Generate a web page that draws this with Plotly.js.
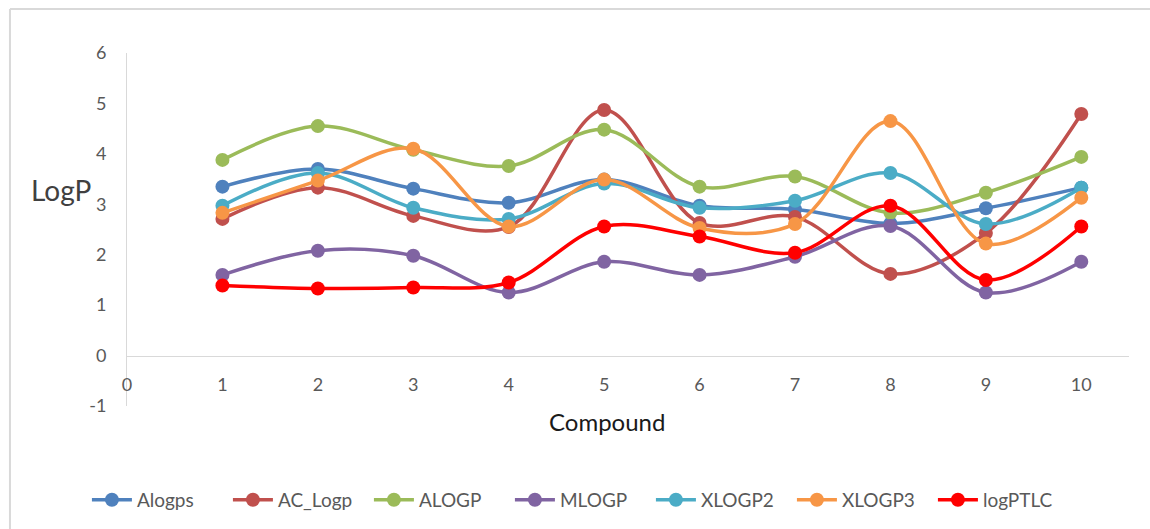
<!DOCTYPE html>
<html>
<head>
<meta charset="utf-8">
<script src="https://cdn.plot.ly/plotly-3.0.1.min.js"></script>
<style>html,body{margin:0;padding:0;background:#fff;}#chart{width:1150px;height:529px;}</style>
</head>
<body>
<div id="chart"></div>
<script>
const compounds = [1, 2, 3, 4, 5, 6, 7, 8, 9, 10];
const alogps  = [3.35, 3.70, 3.31, 3.03, 3.49, 2.97, 2.90, 2.62, 2.92, 3.33];
const acLogp  = [2.71, 3.33, 2.77, 2.55, 4.87, 2.63, 2.75, 1.62, 2.43, 4.79];
const alogp   = [3.88, 4.55, 4.08, 3.76, 4.48, 3.35, 3.55, 2.83, 3.23, 3.94];
const mlogp   = [1.60, 2.08, 1.98, 1.25, 1.86, 1.60, 1.96, 2.57, 1.25, 1.86];
const xlogp2  = [2.97, 3.62, 2.93, 2.71, 3.41, 2.93, 3.07, 3.62, 2.61, 3.33];
const xlogp3  = [2.83, 3.47, 4.10, 2.56, 3.49, 2.53, 2.61, 4.65, 2.22, 3.13];
const logPTLC = [1.39, 1.33, 1.35, 1.45, 2.56, 2.36, 2.04, 2.97, 1.50, 2.56];

const seriesNames = ['Alogps', 'AC_Logp', 'ALOGP', 'MLOGP', 'XLOGP2', 'XLOGP3', 'logPTLC'];
const seriesData = [alogps, acLogp, alogp, mlogp, xlogp2, xlogp3, logPTLC];
const colors = ['#4F81BD', '#C0504D', '#9BBB59', '#8064A2', '#4BACC6', '#F79646', '#FF0000'];

const xTickVals = [0, 1, 2, 3, 4, 5, 6, 7, 8, 9, 10];
const xTickText = ['0', '1', '2', '3', '4', '5', '6', '7', '8', '9', '10'];
const yTickVals = [-1, 0, 1, 2, 3, 4, 5, 6];
const yTickText = ['-1', '0', '1', '2', '3', '4', '5', '6'];

const traces = seriesNames.map((name, i) => ({
  type: 'scatter',
  mode: 'lines+markers',
  name: name,
  x: compounds,
  y: seriesData[i],
  line: {color: colors[i], width: 3.5, shape: 'spline', smoothing: 1},
  marker: {color: colors[i], size: 14}
}));

const font = "Lato, 'Open Sans', sans-serif";
const layout = {
  width: 1150, height: 529,
  margin: {l: 127, r: 21, t: 53, b: 123, autoexpand: false},
  paper_bgcolor: '#fff', plot_bgcolor: '#fff',
  showlegend: true,
  legend: {orientation: 'h', x: -0.04, xanchor: 'left', y: -0.266, yanchor: 'middle',
           font: {family: font, size: 19, color: '#595959'}, itemwidth: 40,
           entrywidth: 86, entrywidthmode: 'pixels'},
  xaxis: {range: [0, 10.5], tickmode: 'array', tickvals: xTickVals, ticktext: xTickText,
          anchor: 'free', position: 1/7, showline: true, linecolor: '#d9d9d9', linewidth: 1,
          showgrid: false, zeroline: false, ticks: '', ticklabelstandoff: 13,
          tickfont: {family: font, size: 18, color: '#595959'}},
  yaxis: {range: [-1, 6], tickmode: 'array', tickvals: yTickVals, ticktext: yTickText,
          showline: true, linecolor: '#d9d9d9', linewidth: 1, showgrid: false, zeroline: false,
          ticks: '', ticklabelstandoff: 16,
          tickfont: {family: font, size: 18, color: '#595959'}},
  annotations: [
    {text: 'LogP', xref: 'paper', yref: 'paper', x: -0.066, y: 0.612, showarrow: false,
     xanchor: 'center', yanchor: 'middle', font: {family: font, size: 28, color: '#404040'}},
    {text: 'Compound', xref: 'paper', yref: 'paper', x: 0.479, y: -0.045, showarrow: false,
     xanchor: 'center', yanchor: 'middle', font: {family: font, size: 24, color: '#1a1a1a'}}
  ],
  shapes: [
    {type: 'line', xref: 'paper', yref: 'paper', x0: -0.1168, x1: -0.1168, y0: 1.1246, y1: -0.36,
     line: {color: '#d9d9d9', width: 2}},
    {type: 'line', xref: 'paper', yref: 'paper', x0: -0.1168, x1: 1.03, y0: 1.1246, y1: 1.1246,
     line: {color: '#d9d9d9', width: 2}}
  ]
};

Plotly.newPlot('chart', traces, layout, {displayModeBar: false, staticPlot: true});
</script>
</body>
</html>
